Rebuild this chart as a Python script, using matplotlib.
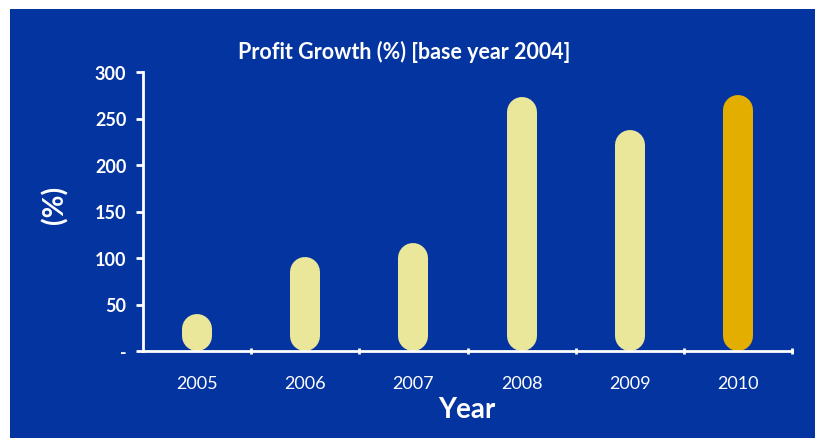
import numpy as np
import matplotlib.pyplot as plt
from matplotlib.patches import Rectangle

years = ['2005', '2006', '2007', '2008', '2009', '2010']
growth = [40, 101, 116, 273, 238, 275]
ytick_vals = [0, 50, 100, 150, 200, 250, 300]
ytick_labels = ['-', '50', '100', '150', '200', '250', '300']

blue = '#0434a0'
pale = '#ebe79a'
gold = '#e4ae00'
bar_colors = [pale] * 5 + [gold]

plt.rcParams['font.family'] = ['Lato', 'DejaVu Sans']

fig = plt.figure(figsize=(8.15, 4.39), dpi=100, facecolor='white')
fig.patches.append(Rectangle((10 / 815, 0), 1, 1 - 10 / 439, transform=fig.transFigure,
                             facecolor=blue, edgecolor='none', zorder=-10))

ax = fig.add_axes([143 / 815, 1 - 352 / 439, 649 / 815, 279 / 439])
ax.set_facecolor('none')
ax.set_xlim(0, len(years))
ax.set_ylim(0, 300)

# bar width in pixels -> rounded capsule bars drawn as thick lines with round caps
bar_px = 30
lw = bar_px * 72 / fig.dpi
px_per_unit = ax.transData.transform((0, 1))[1] - ax.transData.transform((0, 0))[1]
r = (bar_px / 2) / px_per_unit
x = np.arange(len(years)) + 0.5
for xi, v, c in zip(x, growth, bar_colors):
    ax.plot([xi, xi], [r, max(v - r, r + 0.01)], color=c, lw=lw,
            solid_capstyle='round', zorder=3, clip_on=False)

for s in ['top', 'right']:
    ax.spines[s].set_visible(False)
for s in ['left', 'bottom']:
    ax.spines[s].set_color('white')
    ax.spines[s].set_linewidth(2)
    ax.spines[s].set_zorder(4)

ax.set_yticks(ytick_vals)
ax.set_yticklabels(ytick_labels, fontweight='bold')
ax.tick_params(axis='y', colors='white', length=5, width=2, pad=7, labelsize=13)

ax.set_xticks(x)
ax.set_xticklabels(years)
ax.set_xticks(np.arange(1, len(years) + 1), minor=True)
ax.tick_params(axis='x', which='major', length=0, pad=17, colors='white', labelsize=13)
ax.tick_params(axis='x', which='minor', length=5, width=2, direction='inout', colors='white')

fig.text(404 / 815, 1 - 52 / 439, 'Profit Growth (%) [base year 2004]', color='white',
         fontsize=15.5, fontweight='bold', ha='center', va='center')
fig.text(55 / 815, 1 - 205 / 439, '(%)', color='white', fontsize=20, fontweight='bold',
         rotation=90, ha='center', va='center')
fig.text(467 / 815, 1 - 410 / 439, 'Year', color='white', fontsize=20, fontweight='bold',
         ha='center', va='center')

fig.savefig('out.png', dpi=100, facecolor=fig.get_facecolor())
